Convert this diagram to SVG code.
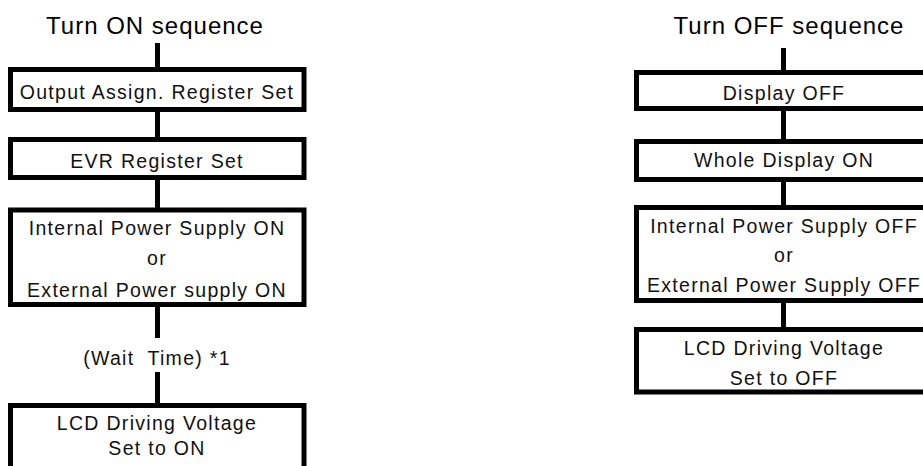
<svg xmlns="http://www.w3.org/2000/svg" width="923" height="466" viewBox="0 0 923 466">
<style>
.box{fill:#fff;stroke:#000;stroke-width:5}
.con{stroke:#000;stroke-width:5;fill:none}
.t{font-family:"Liberation Sans",Arial,sans-serif;font-size:19.5px;letter-spacing:1.3px;text-anchor:middle;fill:#111}
.title{font-family:"Liberation Sans",Arial,sans-serif;font-size:24px;letter-spacing:1px;text-anchor:middle;fill:#000}
</style>
<rect width="923" height="466" fill="#fff"/>
<g id="connectors">
<line class="con" x1="157.5" y1="43" x2="157.5" y2="69.5"/>
<line class="con" x1="157.5" y1="109.5" x2="157.5" y2="139.5"/>
<line class="con" x1="157.5" y1="177.5" x2="157.5" y2="210"/>
<line class="con" x1="157.5" y1="304.5" x2="157.5" y2="338"/>
<line class="con" x1="157.5" y1="372" x2="157.5" y2="405.5"/>
<line class="con" x1="783.5" y1="48" x2="783.5" y2="72.5"/>
<line class="con" x1="783.5" y1="108.5" x2="783.5" y2="141.5"/>
<line class="con" x1="783.5" y1="179.5" x2="783.5" y2="207.5"/>
<line class="con" x1="783.5" y1="300.5" x2="783.5" y2="329.5"/>
</g>
<text class="title" x="155" y="34">Turn ON sequence</text>
<text class="title" x="789" y="34">Turn OFF sequence</text>
<g id="on1">
<rect class="box" x="10.5" y="69.5" width="293.5" height="40"/>
<text class="t" x="157" y="99">Output Assign. Register Set</text>
</g>
<g id="on2">
<rect class="box" x="10.5" y="139.5" width="293.5" height="38"/>
<text class="t" x="157" y="168">EVR Register Set</text>
</g>
<g id="on3">
<rect class="box" x="10.5" y="210" width="293.5" height="94.5"/>
<text class="t" x="157" y="235">Internal Power Supply ON</text>
<text class="t" x="157" y="265">or</text>
<text class="t" x="157" y="297">External Power supply ON</text>
</g>
<g id="wait">
<text class="t" x="157" y="365">(Wait&#160; Time) *1</text>
</g>
<g id="on4">
<rect class="box" x="10.5" y="405.5" width="293.5" height="80"/>
<text class="t" x="157" y="430">LCD Driving Voltage</text>
<text class="t" x="157" y="455">Set to ON</text>
</g>
<g id="off1">
<rect class="box" x="636.5" y="72.5" width="294" height="36"/>
<text class="t" x="784" y="100">Display OFF</text>
</g>
<g id="off2">
<rect class="box" x="636.5" y="141.5" width="294" height="38"/>
<text class="t" x="784" y="167">Whole Display ON</text>
</g>
<g id="off3">
<rect class="box" x="636.5" y="207.5" width="294" height="93"/>
<text class="t" x="784" y="233">Internal Power Supply OFF</text>
<text class="t" x="784" y="262">or</text>
<text class="t" x="784" y="292">External Power Supply OFF</text>
</g>
<g id="off4">
<rect class="box" x="636.5" y="329.5" width="294" height="62.5"/>
<text class="t" x="784" y="355">LCD Driving Voltage</text>
<text class="t" x="784" y="385">Set to OFF</text>
</g>
</svg>
